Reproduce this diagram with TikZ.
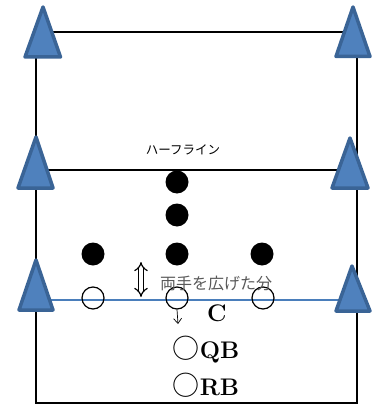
\documentclass[tikz,border=0pt]{standalone}
\usepackage{fontspec}
\newfontfamily\cjk{Noto Sans CJK JP}
\usetikzlibrary{arrows.meta}
\definecolor{coneFill}{HTML}{4F81BD}
\definecolor{coneEdge}{HTML}{3A6496}
\definecolor{scrimBlue}{HTML}{4A7EBB}
\definecolor{noteGray}{HTML}{595959}
\tikzset{
  field/.style={line width=2pt, black},
  cone/.style={fill=coneFill, draw=coneEdge, line width=3.5pt, line join=round},
  scrim/.style={line width=1.6pt, scrimBlue},
  defender/.style={circle, fill=black, inner sep=0pt, minimum size=23pt},
  lineman/.style={circle, draw=black, line width=1.2pt, inner sep=0pt, minimum size=22pt},
  jplabel/.style={font=\cjk\fontsize{12.5}{14}\selectfont, inner sep=0pt},
  graynote/.style={font=\cjk\fontsize{16}{18}\selectfont, text=noteGray, inner sep=0pt},
  player/.style={font=\bfseries\fontsize{24}{26}\selectfont, inner sep=0pt},
}
\newcommand{\ring}{{\mdseries\cjk\fontsize{27}{28}\selectfont ○}}
\begin{document}
\begin{tikzpicture}[x=1pt, y=-1pt]
\useasboundingbox (0,0) rectangle (377,404);
% field outline
\draw[field] (36,32) -- (357,32) -- (357,403) -- (36,403) -- cycle;
% half line
\draw[field] (36,170) -- (357,170);
% line of scrimmage
\draw[scrim] (40,300) -- (350,300);
% cones
\draw[cone] (43,7) -- (25,57) -- (60.5,57) -- cycle;
\draw[cone] (353,7) -- (336,56.5) -- (370,56.5) -- cycle;
\draw[cone] (36,137) -- (18,188) -- (53,188) -- cycle;
\draw[cone] (350,138) -- (332,188) -- (368,188) -- cycle;
\draw[cone] (36,260) -- (19,310) -- (53,310) -- cycle;
\draw[cone] (352,266) -- (336,311) -- (370,311) -- cycle;
% labels
\node[jplabel] (half) at (183,150) {ハーフライン};
% defenders
\node[defender] (d1) at (177,182) {};
\node[defender] (d2) at (177,215) {};
\node[defender] (d3) at (93,254) {};
\node[defender] (d4) at (177,254) {};
\node[defender] (d5) at (262,254) {};
% linemen
\node[lineman] (o1) at (93,298) {};
\node[lineman] (o2) at (177,298) {};
\node[lineman] (o3) at (263,298) {};
% spacing arrow
\coordinate (gapTop) at (141,262);
\coordinate (gapBot) at (141,297);
\draw[double, double distance=3.5pt, line width=1.2pt, {Implies}-{Implies}] (gapTop) -- (gapBot);
\node[graynote] (span) at (216,283) {両手を広げた分};
% snap arrow
\coordinate (snapEnd) at (178,324);
\draw[line width=0.7pt, -{Straight Barb[length=5pt,width=8pt]}] (o2.south) -- (snapEnd);
% backs
\node[player] (c) at (217,313) {C};
\node[player] (qb) at (206,350) {\ring QB};
\node[player] (rb) at (206,385) {\ring RB};
\end{tikzpicture}
\end{document}
